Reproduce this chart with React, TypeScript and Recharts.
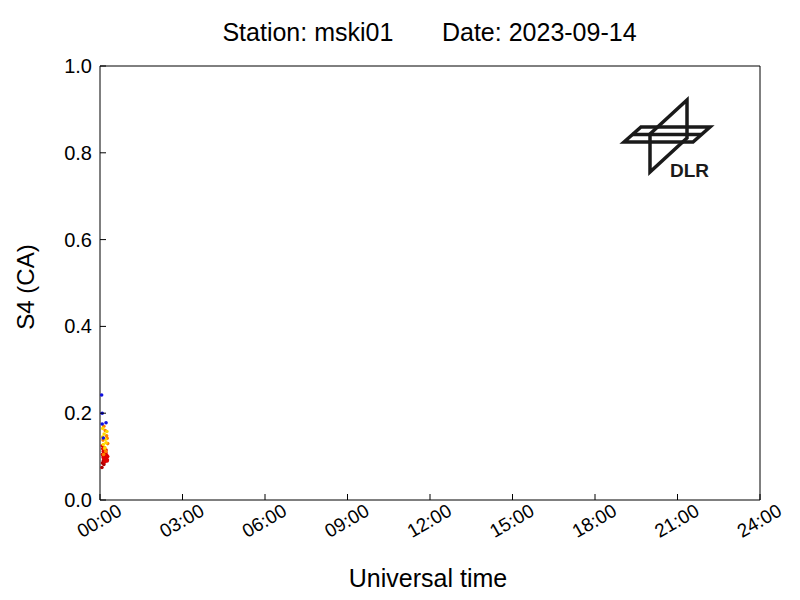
import React from 'react'
import {
  ScatterChart,
  Scatter,
  XAxis,
  YAxis,
  Label
} from 'recharts'

// hours after 00:00 UT and S4 values, grouped by dot colour
const blueT = [0.06, 0.08, 0.08, 0.22, 0.12]
const blueS4 = [0.242, 0.2, 0.175, 0.178, 0.143]

const yellowT = [0.10, 0.15, 0.20, 0.12, 0.25, 0.18, 0.09, 0.22]
const yellowS4 = [0.165, 0.152, 0.14, 0.128, 0.158, 0.12, 0.145, 0.132]

const orangeT = [0.14, 0.19, 0.24, 0.11, 0.28, 0.16, 0.21, 0.26, 0.13]
const orangeS4 = [0.17, 0.16, 0.148, 0.138, 0.13, 0.118, 0.112, 0.142, 0.105]

const redT = [0.08, 0.10, 0.12, 0.14, 0.16, 0.18, 0.20, 0.22, 0.24, 0.26, 0.28, 0.09, 0.13, 0.17, 0.21, 0.25, 0.11, 0.15, 0.19, 0.23, 0.27]
const redS4 = [0.125, 0.118, 0.112, 0.108, 0.12, 0.102, 0.096, 0.115, 0.104, 0.09, 0.1, 0.105, 0.095, 0.088, 0.11, 0.093, 0.099, 0.115, 0.106, 0.097, 0.092]

const darkRedT = [0.07, 0.09, 0.12, 0.15, 0.18, 0.21, 0.24, 0.1, 0.14, 0.2]
const darkRedS4 = [0.075, 0.085, 0.09, 0.095, 0.088, 0.092, 0.1, 0.105, 0.082, 0.098]

const xTicks = [0, 3, 6, 9, 12, 15, 18, 21, 24]
const yTicks = [0, 0.2, 0.4, 0.6, 0.8, 1.0]

const FONT = '"Liberation Sans", Arial, sans-serif'
const TICK = 6

const toPoints = (t: number[], s: number[]) => t.map((v, i) => ({ t: v, s4: s[i] }))

const fmtHour = (h: number) => `${String(h).padStart(2, '0')}:00`

const smallDot = (color: string) => (p: any) => <circle cx={p.cx} cy={p.cy} r={1.8} fill={color} />

function BottomTick(props: any) {
  const { x, y, payload } = props
  return (
    <g>
      <line x1={x} x2={x} y1={y} y2={y - TICK} stroke="#000" />
      <text
        x={x}
        y={y + 22}
        transform={`rotate(-30 ${x} ${y + 22})`}
        textAnchor="middle"
        dominantBaseline="middle"
        fontSize={19}
        fontFamily={FONT}
        fill="#000"
      >
        {fmtHour(payload.value)}
      </text>
    </g>
  )
}

function LeftTick(props: any) {
  const { x, y, payload } = props
  return (
    <g>
      <line x1={x} x2={x + TICK} y1={y} y2={y} stroke="#000" />
      <text x={x - 8} y={y + 7} textAnchor="end" fontSize={20} fontFamily={FONT} fill="#000">
        {payload.value.toFixed(1)}
      </text>
    </g>
  )
}

function TopTick(props: any) {
  const { x, y } = props
  return <line x1={x} x2={x} y1={y} y2={y + TICK} stroke="#000" />
}

function RightTick(props: any) {
  const { x, y } = props
  return <line x1={x} x2={x - TICK} y1={y} y2={y} stroke="#000" />
}

function DlrLogo() {
  return (
    <svg
      width={800}
      height={600}
      style={{ position: 'absolute', left: 0, top: 0, pointerEvents: 'none' }}
    >
      <g fill="none" stroke="#1a1a1a" strokeWidth={3.5} strokeLinejoin="miter">
        <polygon points="624,142 641,127 710,127 693,142" />
        <line x1={632} y1={134.5} x2={701} y2={134.5} />
        <polygon points="687,100 687,138 650,172 650,134" />
      </g>
      <text x={670} y={177} fontSize={19} fontWeight="bold" fontFamily={FONT} fill="#1a1a1a">
        DLR
      </text>
    </svg>
  )
}

export default function App() {
  return (
    <div style={{ position: 'absolute', left: 0, top: 0, width: 800, height: 600, background: '#fff' }}>
      <div
        style={{
          position: 'absolute',
          left: 0,
          top: 18,
          width: 859,
          textAlign: 'center',
          fontFamily: FONT,
          fontSize: 25,
          whiteSpace: 'pre'
        }}
      >
        {'Station: mski01       Date: 2023-09-14'}
      </div>
      <ScatterChart width={800} height={600} margin={{ top: 65, right: 39, bottom: 0, left: 0 }}>
        <XAxis
          xAxisId="bottom"
          dataKey="t"
          type="number"
          domain={[0, 24]}
          ticks={xTicks}
          tick={<BottomTick />}
          tickLine={false}
          tickSize={0}
          tickMargin={0}
          height={100}
          stroke="#000"
          interval={0}
        >
          <Label
            content={(p: any) => (
              <text
                x={p.viewBox.x + p.viewBox.width / 2 - 2}
                y={587}
                textAnchor="middle"
                fontSize={25}
                fontFamily={FONT}
                fill="#000"
              >
                Universal time
              </text>
            )}
          />
        </XAxis>
        <XAxis
          xAxisId="top"
          orientation="top"
          type="number"
          dataKey="t"
          domain={[0, 24]}
          ticks={xTicks}
          tick={<TopTick />}
          tickLine={false}
          tickSize={0}
          tickMargin={0}
          height={1}
          stroke="#000"
          interval={0}
        />
        <YAxis
          yAxisId="left"
          dataKey="s4"
          type="number"
          domain={[0, 1]}
          ticks={yTicks}
          tick={<LeftTick />}
          tickLine={false}
          tickSize={0}
          tickMargin={0}
          width={100}
          stroke="#000"
          interval={0}
        >
          <Label
            content={(p: any) => {
              const cx = 25
              const cy = p.viewBox.y + p.viewBox.height / 2 + 4
              return (
                <text
                  x={cx}
                  y={cy}
                  transform={`rotate(-90 ${cx} ${cy})`}
                  textAnchor="middle"
                  dominantBaseline="central"
                  fontSize={24}
                  fontFamily={FONT}
                  fill="#000"
                >
                  S4 (CA)
                </text>
              )
            }}
          />
        </YAxis>
        <YAxis
          yAxisId="right"
          orientation="right"
          dataKey="s4"
          type="number"
          domain={[0, 1]}
          ticks={yTicks}
          tick={<RightTick />}
          tickLine={false}
          tickSize={0}
          tickMargin={0}
          width={1}
          stroke="#000"
          interval={0}
        />
        <Scatter xAxisId="bottom" yAxisId="left" data={toPoints(darkRedT, darkRedS4)} fill="#b00000" shape={smallDot('#b00000')} isAnimationActive={false} />
        <Scatter xAxisId="bottom" yAxisId="left" data={toPoints(redT, redS4)} fill="#e00000" shape={smallDot('#e00000')} isAnimationActive={false} />
        <Scatter xAxisId="bottom" yAxisId="left" data={toPoints(orangeT, orangeS4)} fill="#ff8000" shape={smallDot('#ff8000')} isAnimationActive={false} />
        <Scatter xAxisId="bottom" yAxisId="left" data={toPoints(yellowT, yellowS4)} fill="#ffd800" shape={smallDot('#ffd800')} isAnimationActive={false} />
        <Scatter xAxisId="bottom" yAxisId="left" data={toPoints(blueT, blueS4)} fill="#1010e0" shape={smallDot('#1010e0')} isAnimationActive={false} />
      </ScatterChart>
      <DlrLogo />
    </div>
  )
}
